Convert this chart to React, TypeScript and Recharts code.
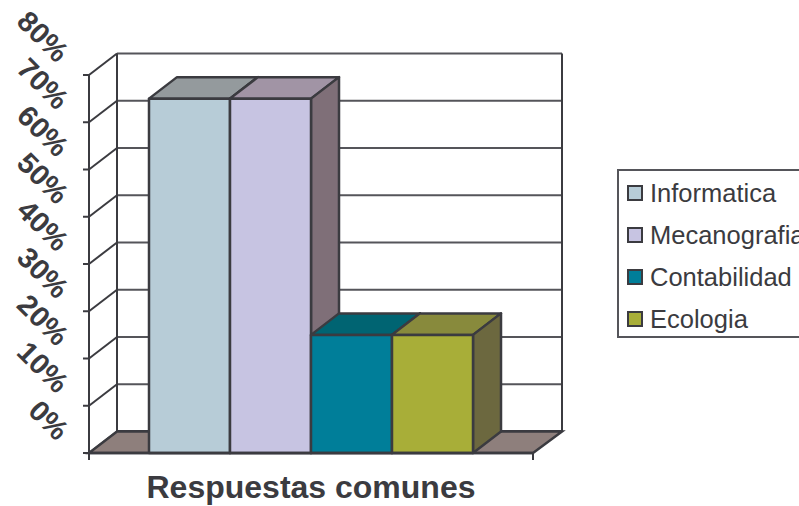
import { BarChart, Bar, XAxis, YAxis, CartesianGrid, Legend } from 'recharts';

const categories = ['Respuestas comunes'];
const seriesNames = ['Informatica', 'Mecanografia', 'Contabilidad', 'Ecologia'];
const seriesValues = [75, 75, 25, 25];
const yTicks = [0, 10, 20, 30, 40, 50, 60, 70, 80];

const frontColors = ['#b7ccd7', '#c7c4e2', '#007e99', '#a8ae38'];
const topColors = ['#949a9d', '#a194a5', '#006472', '#888a3c'];
const sideColors = ['#7f6f78', '#7f6f78', '#00505f', '#6c683f'];

const INK = '#3b3b40';
const FLOOR = '#8e7f7c';
const DX = 28;
const DY = 21.5;
const FONT = '"Liberation Sans", Arial, sans-serif';

const chartData = categories.map((name) => {
  const row: Record<string, string | number> = { name };
  seriesNames.forEach((s, i) => {
    row[s] = seriesValues[i];
  });
  return row;
});

// caja 3D: frente, tapa y lateral a partir del rectangulo de la barra
const box3d = (i: number) => (props: any) => {
  const { x, y, width, height } = props;
  const r = x + width;
  const b = y + height;
  return (
    <g stroke={INK} strokeWidth={2.5} strokeLinejoin="round">
      <polygon
        points={`${x},${y} ${x + DX},${y - DY} ${r + DX},${y - DY} ${r},${y}`}
        fill={topColors[i]}
      />
      <polygon
        points={`${r},${y} ${r + DX},${y - DY} ${r + DX},${b - DY} ${r},${b}`}
        fill={sideColors[i]}
      />
      <rect x={x} y={y} width={width} height={height} fill={frontColors[i]} />
    </g>
  );
};

// linea de la pared del fondo mas la diagonal de la pared izquierda
const wallLine = (props: any) => {
  const { x1, x2, y1, key, index } = props;
  return (
    <g key={key} fill="none">
      <line x1={x1} y1={y1} x2={x1 + DX} y2={y1 - DY} stroke={INK} strokeWidth={2} />
      <line
        x1={x1 + DX}
        y1={y1 - DY}
        x2={x2 + DX + 1}
        y2={y1 - DY}
        stroke={index === 0 ? INK : '#55555a'}
        strokeWidth={index === 0 ? 3 : 2}
      />
    </g>
  );
};

// bordes verticales del fondo, piso y marcas del eje x
const wallEdge = (props: any) => {
  const { x1, y1, y2, key, index } = props;
  return (
    <g key={key}>
      {index === 1 && (
        <polygon
          points={`${x1},${y2} ${x1 + DX + 1},${y2 - DY} ${x1 - 444 + DX},${y2 - DY} ${x1 - 444},${y2}`}
          fill={FLOOR}
          stroke={INK}
          strokeWidth={2.5}
        />
      )}
      <line
        x1={x1 + DX + index}
        y1={y1 - DY}
        x2={x1 + DX + index}
        y2={y2 - DY}
        stroke={INK}
        strokeWidth={2}
      />
      <line x1={x1} y1={y2} x2={x1} y2={y2 + 7} stroke={INK} strokeWidth={2} />
    </g>
  );
};

const YTick = ({ x, y, payload }: any) => (
  <text
    transform={`translate(${x - 17.5}, ${y - 18}) rotate(45)`}
    textAnchor="end"
    dominantBaseline="central"
    fontFamily={FONT}
    fontWeight="bold"
    fontSize={29}
    fill={INK}
  >
    {payload.value}%
  </text>
);

const XTick = ({ x, y, payload }: any) => (
  <text x={x} y={y + 37} textAnchor="middle" fontFamily={FONT} fontWeight="bold" fontSize={32} fill={INK}>
    {payload.value}
  </text>
);

const LegendBox = ({ payload }: any) => (
  <div
    style={{
      boxSizing: 'border-box',
      width: 182,
      height: 169,
      borderTop: '2px solid #55555a',
      borderLeft: '2px solid #55555a',
      borderBottom: '2px solid #55555a',
      overflow: 'hidden',
      paddingTop: 1,
    }}
  >
    {(payload || []).map((entry: any) => (
      <div
        key={entry.value}
        style={{ display: 'flex', alignItems: 'center', height: 42, paddingLeft: 8, whiteSpace: 'nowrap' }}
      >
        <span
          style={{
            boxSizing: 'border-box',
            width: 16,
            height: 16,
            background: entry.color,
            border: `2px solid ${INK}`,
            marginRight: 7,
            flexShrink: 0,
          }}
        />
        <span style={{ fontFamily: FONT, fontSize: 25.5, color: INK }}>{entry.value}</span>
      </div>
    ))}
  </div>
);

export default function App() {
  return (
    <div style={{ position: 'absolute', left: 0, top: 0, width: 799, height: 506, overflow: 'hidden', background: '#fff' }}>
      <BarChart
        width={799}
        height={506}
        data={chartData}
        margin={{ top: 75, right: 266, left: 0, bottom: 0 }}
        barSize={81}
        barGap={0}
      >
        <CartesianGrid
          horizontal={wallLine}
          vertical={wallEdge}
          verticalCoordinatesGenerator={({ offset }: any) => [offset.left, offset.left + offset.width]}
        />
        <XAxis
          dataKey="name"
          height={53}
          tick={<XTick />}
          tickLine={false}
          axisLine={{ stroke: INK, strokeWidth: 2.5 }}
        />
        <YAxis
          width={89}
          domain={[0, 80]}
          ticks={yTicks}
          interval={0}
          tick={<YTick />}
          tickSize={6}
          tickLine={{ stroke: INK, strokeWidth: 2 }}
          axisLine={{ stroke: INK, strokeWidth: 2 }}
        />
        <Legend
          layout="horizontal"
          verticalAlign="middle"
          align="center"
          itemSorter={null}
          content={<LegendBox />}
          wrapperStyle={{ left: 617, top: 169, width: 182, height: 169 }}
        />
        {seriesNames.map((s, i) => (
          <Bar key={s} dataKey={s} fill={frontColors[i]} shape={box3d(i)} isAnimationActive={false} />
        ))}
      </BarChart>
    </div>
  );
}
